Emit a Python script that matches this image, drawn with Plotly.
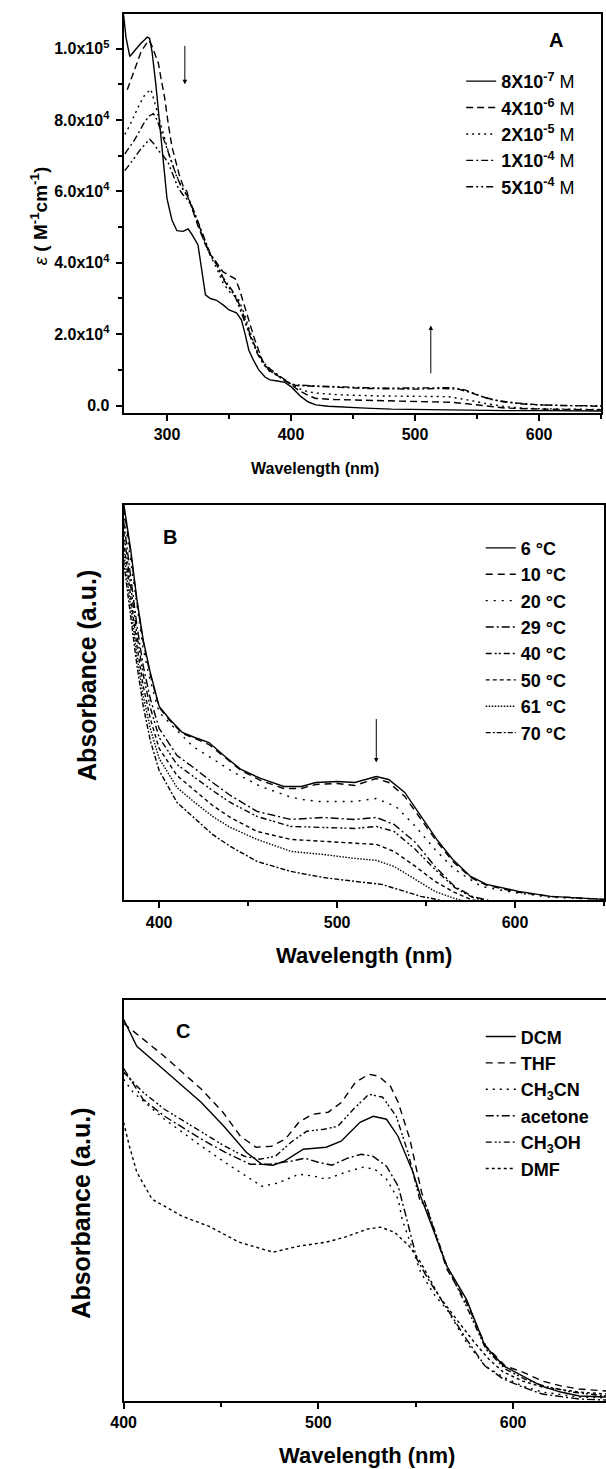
import plotly.graph_objects as go

W, H = 606, 1469
FONT = "Liberation Sans, Arial, sans-serif"

# ---------------- Panel A data (wavelength nm, epsilon M^-1 cm^-1) ----------------
a_names = ["<b>8X10<sup>-7</sup></b> M", "<b>4X10<sup>-6</sup></b> M", "<b>2X10<sup>-5</sup></b> M",
           "<b>1X10<sup>-4</sup></b> M", "<b>5X10<sup>-4</sup></b> M"]
a1_x = [265, 267, 270, 273, 276, 279, 282, 284, 286, 288, 291, 294, 297, 300, 304, 308, 313, 317, 320,
        325, 328, 331, 335, 340, 346, 350, 356, 360, 363, 366, 370, 374, 379, 383, 389, 395, 400, 404,
        408, 414, 420, 430, 440, 460, 481, 500, 512, 540, 573, 600, 634, 650]
a1_y = [109500, 103000, 97800, 99000, 100500, 101500, 102500, 103200, 102900, 99000, 90000, 79000, 68500,
        58000, 52000, 49000, 48800, 49500, 48000, 45000, 38000, 31000, 30000, 29500, 28000, 26800, 26000,
        24000, 20000, 15500, 12500, 10000, 8000, 7200, 6900, 6500, 5300, 4000, 2500, 1000, 200, -200, -400,
        -700, -1000, -1100, -1200, -1300, -1400, -1400, -1400, -1500]
a2_x = [268, 270, 273, 276, 279, 282, 285, 287, 290, 293, 295, 298, 301, 304, 307, 310, 313, 316, 318, 322,
        325, 330, 334, 340, 345, 350, 355, 358, 362, 366, 371, 377, 382, 386, 391, 395.5, 400, 404, 408,
        414, 420, 435, 450, 480, 512, 530, 542, 555, 573, 603, 650]
a2_y = [88500, 90500, 93500, 96500, 99000, 100700, 102300, 101500, 99000, 96000, 92000, 86500, 79000, 72500,
        68500, 64500, 61500, 60000, 57500, 53500, 50300, 46000, 42800, 40000, 37500, 36500, 35500, 33000,
        28500, 24000, 18200, 12600, 10000, 9100, 8000, 7200, 6000, 4800, 3900, 2800, 2000, 1700, 1600, 1300,
        1100, 900, 500, 0, -700, -1000, -1200]
a3_x = [266, 270, 274, 278, 282, 287, 290, 294, 298, 302, 306, 310, 314, 318, 322, 326, 330, 335, 340, 345,
        350, 355, 358, 362, 366, 371, 377, 382, 388, 395, 400, 405, 410, 420, 440, 470, 500, 527, 542, 558,
        573, 590, 620, 650]
a3_y = [76000, 78500, 81500, 84500, 87000, 88600, 85000, 80000, 75000, 70000, 66000, 62500, 60000, 57500,
        53500, 49500, 46000, 42000, 38500, 34500, 32000, 30500, 29500, 26000, 21500, 16500, 12000, 9800, 8800,
        7000, 6000, 5000, 4200, 3500, 3000, 2700, 2600, 2500, 1600, 500, -300, -800, -1000, -1100]
a4_x = [266, 270, 274, 278, 282, 286, 289, 292, 296, 300, 304, 308, 312, 316, 320, 325, 330, 335, 340, 345,
        350, 355, 360, 364, 368, 373, 378, 384, 390, 395, 400, 405, 420, 440, 460, 480, 500, 520, 535, 545,
        555, 565, 580, 600, 620, 650]
a4_y = [70500, 72500, 74500, 77000, 79500, 81200, 81800, 80000, 76000, 71500, 67500, 64000, 61000, 59000,
        56000, 51500, 46500, 42500, 40000, 36000, 33500, 31000, 27000, 23000, 19000, 15000, 12000, 10000, 8500,
        7000, 6000, 5600, 5300, 5100, 4800, 4600, 4600, 4800, 4600, 3600, 2400, 1500, 800, 200, 0, -200]
a5_x = [266, 270, 274, 278, 282, 286, 289, 293, 297, 301, 305, 309, 313, 317, 321, 325, 330, 335, 340, 345,
        350, 355, 360, 364, 368, 373, 378, 384, 390, 395, 400, 405, 420, 440, 460, 480, 500, 520, 530, 540,
        550, 560, 572, 585, 600, 620, 650]
a5_y = [65800, 67500, 69500, 71500, 73000, 74600, 73500, 71500, 70000, 68000, 64500, 61000, 59000, 57500,
        55000, 51000, 46500, 42000, 39500, 35500, 33000, 30500, 26000, 22000, 18500, 14500, 11500, 9500, 8000,
        7000, 6000, 5800, 5500, 5200, 5000, 4900, 5000, 5100, 5000, 4400, 3000, 1800, 1000, 500, 200, 0, 0]
a_x = [a1_x, a2_x, a3_x, a4_x, a5_x]
a_y = [a1_y, a2_y, a3_y, a4_y, a5_y]
a_dash = ["solid", "7px,4px", "2px,4px", "7px,3px,2px,3px", "7px,3px,2px,3px,2px,3px"]
a_ytick_vals = [0, 20000, 40000, 60000, 80000, 100000]
a_ytick_text = ["0.0", "2.0x10<sup>4</sup>", "4.0x10<sup>4</sup>", "6.0x10<sup>4</sup>",
                "8.0x10<sup>4</sup>", "1.0x10<sup>5</sup>"]
a_xticks = [300, 400, 500, 600]

# ---------------- Panel B data (temperature series, absorbance a.u.) ----------------
b_names = ["<b>6 °C</b>", "<b>10 °C</b>", "<b>20 °C</b>", "<b>29 °C</b>",
           "<b>40 °C</b>", "<b>50 °C</b>", "<b>61 °C</b>", "<b>70 °C</b>"]
b1_x = [380, 384, 387.5, 391, 395, 400, 406, 413, 420, 428, 437, 446, 457, 470, 480, 488, 500, 510, 522,
        529, 538, 547, 556, 565, 575, 584, 602, 620, 639, 650]
b1_y = [3.98, 3.51, 3.01, 2.61, 2.28, 1.94, 1.81, 1.68, 1.63, 1.58, 1.44, 1.31, 1.22, 1.14, 1.14, 1.18, 1.19,
        1.18, 1.24, 1.21, 1.08, 0.84, 0.61, 0.41, 0.24, 0.16, 0.09, 0.04, 0.02, 0.01]
b2_x = b1_x
b2_y = [3.93, 3.48, 2.99, 2.59, 2.26, 1.93, 1.80, 1.67, 1.62, 1.56, 1.43, 1.30, 1.20, 1.12, 1.12, 1.16, 1.17,
        1.15, 1.22, 1.18, 1.04, 0.81, 0.59, 0.39, 0.23, 0.15, 0.08, 0.04, 0.02, 0.01]
b3_x = [380, 384, 387.5, 391, 395, 400, 404, 419, 428, 442, 457, 473, 480, 490, 500, 510, 522, 533, 544, 555,
        566, 581, 599, 620, 650]
b3_y = [3.90, 3.40, 2.92, 2.52, 2.20, 1.88, 1.81, 1.54, 1.44, 1.28, 1.14, 1.04, 1.01, 0.99, 0.99, 0.99, 1.02,
        0.94, 0.74, 0.51, 0.31, 0.14, 0.08, 0.03, 0.01]
b4_x = [380, 384, 387.5, 391, 395, 400, 410, 420, 430, 440, 455, 474, 492, 501, 510, 522, 532, 544, 555, 566,
        576, 585, 600, 650]
b4_y = [3.80, 3.25, 2.75, 2.35, 2.02, 1.72, 1.45, 1.32, 1.18, 1.05, 0.89, 0.81, 0.83, 0.82, 0.81, 0.83, 0.76,
        0.58, 0.34, 0.14, 0.04, 0.0, -0.05, -0.1]
b5_x = [380, 384, 387.5, 391, 395, 400, 410, 420, 430, 440, 455, 474, 492, 510, 522, 532, 544, 555, 566, 576,
        585, 600, 650]
b5_y = [3.70, 3.15, 2.66, 2.26, 1.93, 1.63, 1.36, 1.23, 1.10, 0.98, 0.84, 0.74, 0.73, 0.72, 0.74, 0.69, 0.51,
        0.31, 0.13, 0.03, -0.01, -0.05, -0.1]
b6_x = [380, 384, 387.5, 391, 395, 400, 410, 420, 430, 440, 455, 474, 492, 510, 522, 532, 544, 555, 566, 575,
        590, 650]
b6_y = [3.60, 3.05, 2.55, 2.15, 1.82, 1.52, 1.25, 1.10, 0.95, 0.83, 0.69, 0.61, 0.59, 0.57, 0.56, 0.49, 0.34,
        0.19, 0.08, 0.01, -0.05, -0.1]
b7_x = [380, 384, 387.5, 391, 395, 400, 410, 420, 430, 440, 455, 474, 492, 510, 522, 532, 544, 555, 566, 580,
        650]
b7_y = [3.50, 2.95, 2.45, 2.05, 1.72, 1.42, 1.13, 0.98, 0.84, 0.73, 0.61, 0.49, 0.46, 0.42, 0.40, 0.34, 0.21,
        0.09, 0.02, -0.05, -0.1]
b8_x = [380, 384, 387.5, 391, 395, 400, 410, 420, 430, 440, 455, 474, 492, 510, 525, 538, 547, 556, 570, 650]
b8_y = [3.40, 2.85, 2.35, 1.95, 1.60, 1.30, 0.98, 0.82, 0.66, 0.54, 0.39, 0.29, 0.23, 0.19, 0.16, 0.09, 0.04,
        0.01, -0.05, -0.1]
b_x = [b1_x, b2_x, b3_x, b4_x, b5_x, b6_x, b7_x, b8_x]
b_y = [b1_y, b2_y, b3_y, b4_y, b5_y, b6_y, b7_y, b8_y]
b_dash = ["solid", "7px,5px", "2px,6px", "8px,3px,2px,3px", "6px,3px,2px,2px,2px,3px",
          "4px,3px", "1.5px,1.5px", "5px,2px,2px,2px"]
b_xticks = [400, 500, 600]

# ---------------- Panel C data (solvent series, absorbance a.u.) ----------------
c_names = ["<b>DCM</b>", "<b>THF</b>", "<b>CH<sub>3</sub>CN</b>", "<b>acetone</b>",
           "<b>CH<sub>3</sub>OH</b>", "<b>DMF</b>"]
c1_x = [400, 406.8, 420.4, 439.8, 451.5, 463, 471, 476.7, 482.6, 492.3, 504, 511.7, 521.4, 528.2, 535, 540.9,
        548.6, 552.5, 556.4, 566, 576, 585.6, 595.3, 605, 614.7, 624.4, 634, 648]
c1_y = [3.82, 3.55, 3.32, 2.99, 2.75, 2.49, 2.37, 2.36, 2.40, 2.52, 2.54, 2.60, 2.79, 2.85, 2.82, 2.65, 2.29,
        2.05, 1.85, 1.35, 1.02, 0.55, 0.35, 0.25, 0.15, 0.09, 0.05, 0.04]
c2_x = [400, 410, 420.9, 440, 451, 460, 468, 476, 483, 490, 497, 505, 512, 519, 526, 531, 537, 541, 547, 553,
        557, 566, 576, 586, 596, 605, 615, 625, 634, 648]
c2_y = [3.78, 3.62, 3.45, 3.12, 2.89, 2.65, 2.54, 2.55, 2.62, 2.79, 2.87, 2.89, 2.99, 3.19, 3.27, 3.25, 3.15,
        2.99, 2.62, 2.09, 1.85, 1.32, 0.99, 0.55, 0.35, 0.29, 0.20, 0.15, 0.12, 0.10]
c3_x = [400, 404.9, 421, 440, 455, 471, 479, 490, 498, 504, 514, 523, 529, 535, 541, 543, 552.5, 560, 566,
        576, 585.6, 595, 605, 615, 634, 648]
c3_y = [3.22, 3.09, 2.82, 2.55, 2.35, 2.15, 2.18, 2.27, 2.25, 2.22, 2.29, 2.34, 2.32, 2.22, 2.02, 1.82, 1.29,
        1.05, 0.92, 0.59, 0.35, 0.24, 0.15, 0.09, 0.04, 0.03]
c4_x = [400, 410, 421, 440, 452, 465, 475, 486, 493, 500, 507, 515, 522, 528, 535, 541, 545, 550.6, 556.4,
        566, 576, 585.6, 595, 605, 615, 634, 648]
c4_y = [3.33, 3.02, 2.85, 2.62, 2.49, 2.37, 2.37, 2.40, 2.43, 2.39, 2.36, 2.43, 2.47, 2.45, 2.35, 2.15, 1.85,
        1.42, 1.22, 0.92, 0.62, 0.35, 0.22, 0.14, 0.07, 0.02, 0.01]
c5_x = [400, 410, 421, 440, 452, 462, 470, 478, 486, 494, 503, 510, 518, 526, 533, 540, 546, 552, 556, 566,
        576, 586, 596, 606, 616, 630, 648]
c5_y = [3.29, 3.09, 2.92, 2.69, 2.55, 2.45, 2.42, 2.45, 2.59, 2.70, 2.72, 2.75, 2.92, 3.07, 3.04, 2.85, 2.49,
        2.02, 1.92, 1.35, 0.95, 0.52, 0.32, 0.22, 0.15, 0.09, 0.05]
c6_x = [400, 403, 406.8, 414.6, 421, 430, 443.7, 459.3, 476.7, 490, 504, 513.7, 525, 532, 539, 546.7, 552.5,
        562, 572, 580, 587.5, 595, 605, 615, 634, 648]
c6_y = [2.79, 2.55, 2.29, 2.02, 1.95, 1.85, 1.75, 1.59, 1.49, 1.55, 1.59, 1.64, 1.72, 1.74, 1.69, 1.55, 1.39,
        1.05, 0.79, 0.59, 0.42, 0.29, 0.20, 0.14, 0.09, 0.07]
c_x = [c1_x, c2_x, c3_x, c4_x, c5_x, c6_x]
c_y = [c1_y, c2_y, c3_y, c4_y, c5_y, c6_y]
c_dash = ["solid", "7px,5px", "2px,5px", "8px,3px,2px,3px", "6px,3px,2px,2px,2px,3px", "3px,3px"]
c_xticks = [400, 500, 600]

# ---------------- Figure ----------------
fig = go.Figure()

def add_series(xs, ys, names, dashes, xa, ya, leg):
    for x, y, n, d in zip(xs, ys, names, dashes):
        fig.add_trace(go.Scatter(x=x, y=y, mode="lines", name=n, legend=leg, legendgroup=leg + n,
                                 line=dict(color="black", width=1.4, dash=d),
                                 xaxis=xa, yaxis=ya, hoverinfo="skip"))

add_series(a_x, a_y, a_names, a_dash, "x", "y", "legend")
add_series(b_x, b_y, b_names, b_dash, "x2", "y2", "legend2")
add_series(c_x, c_y, c_names, c_dash, "x3", "y3", "legend3")

def px(v):
    return v / W

def py(v):
    return 1 - v / H

tickfont = dict(family=FONT, size=16, color="black", weight="bold")
axis_common = dict(showline=True, linewidth=2, linecolor="black", showgrid=False, zeroline=False,
                   ticks="outside", ticklen=6, tickwidth=1.5, tickcolor="black", tickfont=tickfont)

legfont = dict(family=FONT, size=18, color="black")
leg_common = dict(bgcolor="rgba(0,0,0,0)", borderwidth=0, font=legfont, xanchor="left", yanchor="top",
                  tracegroupgap=0, itemwidth=30)

fig.update_layout(
    width=W, height=H, margin=dict(l=0, r=0, t=0, b=0),
    paper_bgcolor="white", plot_bgcolor="white",
    font=dict(family=FONT, color="black"),
    xaxis=dict(domain=[px(113), px(601)], range=[265, 650], anchor="y", mirror=True,
               tickvals=a_xticks, minor=dict(dtick=50, tick0=0, ticks="outside", ticklen=4, tickcolor="black"),
               **axis_common),
    yaxis=dict(domain=[py(413), py(14)], range=[-2000, 109700], anchor="x", mirror=True,
               tickvals=a_ytick_vals, ticktext=a_ytick_text, ticklabelstandoff=3,
               minor=dict(dtick=10000, tick0=0, ticks="outside", ticklen=4, tickcolor="black"),
               **{**axis_common, "tickfont": dict(family=FONT, size=16, color="black", weight="bold")}),
    xaxis2=dict(domain=[px(113), px(604)], range=[380, 650], anchor="y2", mirror=True,
                tickvals=b_xticks, minor=dict(dtick=50, tick0=0, ticks="outside", ticklen=4, tickcolor="black"),
                **axis_common),
    yaxis2=dict(domain=[py(901), py(505)], range=[0, 3.96], anchor="x2", mirror=True,
                showline=True, linewidth=2, linecolor="black", showgrid=False, zeroline=False,
                ticks="", showticklabels=False),
    xaxis3=dict(domain=[px(113), 1.0], range=[400, 647.7], anchor="y3", mirror=True,
                tickvals=c_xticks, minor=dict(dtick=50, tick0=0, ticks="outside", ticklen=4, tickcolor="black"),
                **axis_common),
    yaxis3=dict(domain=[py(1402), py(1001)], range=[0, 4.01], anchor="x3", mirror=False,
                showline=True, linewidth=2, linecolor="black", showgrid=False, zeroline=False,
                ticks="", showticklabels=False),
    legend=dict(x=px(458), y=py(63), **leg_common),
    legend2=dict(x=px(478), y=py(530), **leg_common),
    legend3=dict(x=px(478), y=py(1019), **leg_common),
    showlegend=True,
)

ann = []
def txt(x, y, t, size, angle=0):
    ann.append(dict(xref="paper", yref="paper", x=px(x), y=py(y), text=t, showarrow=False,
                    textangle=angle, xanchor="center", yanchor="middle",
                    font=dict(family=FONT, size=size, color="black")))

txt(309, 469, "<b>Wavelength (nm)</b>", 16)
txt(26, 216, "<i>ε</i><b> ( M<sup>-1</sup>cm<sup>-1</sup>)</b>", 19, -90)
txt(359, 956, "<b>Wavelength (nm)</b>", 22)
txt(75, 676, "<b>Absorbance (a.u.)</b>", 25, -90)
txt(362, 1456, "<b>Wavelength (nm)</b>", 22)
txt(70, 1214, "<b>Absorbance (a.u.)</b>", 25, -90)

# panel letters (data coords)
ann.append(dict(xref="x", yref="y", x=614, y=102500, text="<b>A</b>", showarrow=False,
                font=dict(family=FONT, size=20, color="black")))
ann.append(dict(xref="x2", yref="y2", x=406, y=3.64, text="<b>B</b>", showarrow=False,
                font=dict(family=FONT, size=20, color="black")))
ann.append(dict(xref="x3", yref="y3", x=430.5, y=3.70, text="<b>C</b>", showarrow=False,
                font=dict(family=FONT, size=20, color="black")))

# arrows
def arrow(xr, yr, x, y0, y1):
    ann.append(dict(xref=xr, yref=yr, axref=xr, ayref=yr, x=x, y=y1, ax=x, ay=y0, text="",
                    showarrow=True, arrowhead=2, arrowsize=0.9, arrowwidth=1, arrowcolor="black"))

arrow("x", "y", 314.4, 101200, 90000)
arrow("x", "y", 512.7, 8600, 22400)
arrow("x2", "y2", 522, 1.83, 1.38)

fig.update_layout(annotations=ann)
fig.write_html("out.html")
